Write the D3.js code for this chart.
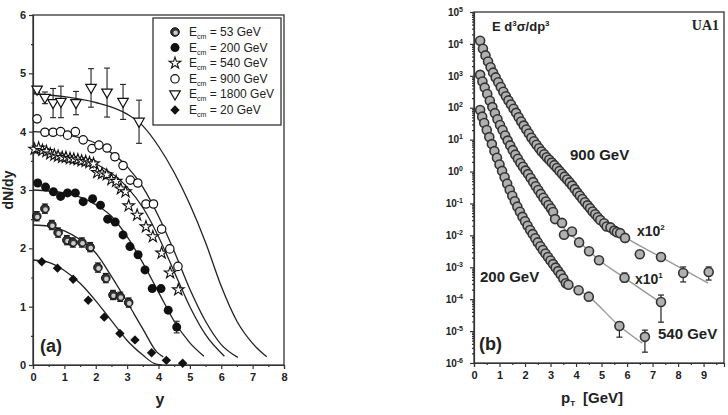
<!doctype html>
<html>
<head>
<meta charset="utf-8">
<script src="https://cdn.jsdelivr.net/npm/d3@7"></script>
<style>
html,body{margin:0;background:#fff;overflow:hidden;}
text{font-family:Arial,"Liberation Sans",sans-serif;font-weight:bold;fill:#222;}
.leg text{font-weight:normal;}
.axis path,.axis line{stroke:#333;stroke-width:1.2;}
</style>
</head>
<body>
<script>
// ---------- panel (a) : dN/dy vs y ----------
// points: [y, dN/dy, error]
var e53 = [[0.12,2.55,0.08],[0.38,2.68,0.08],[0.6,2.4,0.08],[0.8,2.27,0.08],[1.08,2.14,0.08],[1.27,2.1,0.08],
  [1.56,2.1,0.08],[1.82,2.02,0.08],[2.07,1.67,0.08],[2.32,1.49,0.08],[2.55,1.2,0.08],[2.78,1.17,0.08],[3.05,1.07,0.08]];
var e200 = [[0.15,3.12,0],[0.4,3.05,0],[0.65,2.97,0],[0.88,2.89,0],[1.1,2.95,0],[1.35,2.95,0],[1.6,2.8,0],
  [1.9,2.85,0],[2.15,2.74,0],[2.38,2.5,0],[2.62,2.45,0],[2.87,2.23,0],[3.09,2.03,0],[3.35,1.89,0],
  [3.57,1.63,0],[3.8,1.31,0],[4.08,1.31,0],[4.31,0.94,0],[4.58,0.65,0.1]];
var e540 = [[0.05,3.7,0],[0.18,3.72,0],[0.3,3.68,0],[0.43,3.66,0],[0.55,3.62,0],[0.68,3.6,0],[0.8,3.58,0],
  [0.93,3.56,0],[1.05,3.56,0],[1.18,3.54,0],[1.3,3.53,0],[1.43,3.52,0],[1.55,3.5,0],[1.68,3.49,0],
  [1.8,3.47,0],[1.93,3.45,0],[2.05,3.3,0],[2.2,3.28,0],[2.35,3.26,0],[2.5,3.18,0],[2.65,3.15,0],
  [2.8,3.02,0],[2.95,2.97,0],[3.05,2.73,0],[3.32,2.57,0],[3.6,2.37,0],[3.82,2.2,0],[4.1,1.92,0],
  [4.37,1.58,0],[4.63,1.29,0]];
var e900 = [[0.13,4.22,0],[0.38,3.99,0],[0.64,3.99,0],[0.88,4.0,0],[1.1,3.94,0],[1.35,4.0,0],[1.6,3.86,0],
  [1.88,3.71,0],[2.1,3.77,0],[2.36,3.72,0],[2.61,3.57,0],[2.87,3.42,0],[3.1,3.17,0],[3.34,3.12,0],
  [3.6,2.76,0],[3.84,2.76,0],[4.1,2.33,0],[4.36,1.99,0],[4.62,1.69,0]];
var e1800 = [[0.13,4.72,0.05],[0.38,4.58,0.1],[0.64,4.49,0.25],[0.89,4.51,0.27],[1.37,4.49,0.2],
  [1.85,4.75,0.33],[2.36,4.67,0.42],[2.87,4.51,0.3],[3.38,4.17,0.37]];
var e20 = [[0.28,1.77,0],[0.78,1.66,0],[1.28,1.47,0],[1.76,1.11,0],[2.27,0.82,0],[2.77,0.54,0],
  [3.25,0.43,0],[3.78,0.21,0],[4.25,0.08,0],[4.77,0.03,0]];

// fit curves: [y, dN/dy]
var fit20 = [[0,1.8],[0.5,1.76],[1,1.62],[1.5,1.4],[2,1.1],[2.5,0.76],[3,0.42],[3.5,0.17],[3.85,0.03],[4.1,0.0]];
var fit53 = [[0,2.4],[0.5,2.38],[1,2.3],[1.5,2.15],[2,1.92],[2.5,1.52],[3,1.08],[3.5,0.62],[3.95,0.22],[4.15,0.14]];
var fit200 = [[0,3.0],[1,2.95],[2,2.75],[2.5,2.55],[3,2.2],[3.5,1.75],[4,1.25],[4.5,0.75],[5,0.38],[5.45,0.15]];
var fit540 = [[0,3.65],[1,3.6],[2,3.45],[3,3.05],[3.5,2.7],[4,2.2],[4.5,1.6],[5,1.0],[5.5,0.52],[6.1,0.15]];
var fit900 = [[0,4.0],[1,3.95],[2,3.8],[3,3.4],[3.5,3.05],[4,2.55],[4.5,1.95],[5,1.3],[5.5,0.75],[6,0.35],[6.53,0.13]];
var fit1800 = [[0,4.65],[1,4.6],[2,4.5],[3,4.3],[3.5,4.1],[4,3.75],[4.5,3.3],[5,2.75],[5.5,2.1],[6,1.35],[6.5,0.75],[7,0.37],[7.45,0.14]];

var legendLabels = ["= 53 GeV","= 200 GeV","= 540 GeV","= 900 GeV","= 1800 GeV","= 20 GeV"];

// ---------- panel (b) : E d3sigma/dp3 vs pT, values as log10 ----------
var top900 = [[0.24,4.1],[0.35,3.85],[0.45,3.64],[0.55,3.45],[0.65,3.27],[0.75,3.1],[0.85,2.95],[0.95,2.8],
  [1.05,2.65],[1.15,2.5],[1.25,2.36],[1.35,2.23],[1.45,2.1],[1.55,1.97],[1.65,1.84],[1.75,1.7],[1.85,1.57],
  [1.95,1.44],[2.05,1.32],[2.15,1.19],[2.25,1.06],[2.35,0.95],[2.45,0.84],[2.55,0.73],[2.65,0.63],[2.75,0.54],
  [2.85,0.45],[2.95,0.37],[3.05,0.28],[3.15,0.2],[3.25,0.11],[3.35,0.02],[3.45,-0.07],[3.55,-0.16],[3.65,-0.25],
  [3.75,-0.34],[3.85,-0.44],[3.95,-0.55],[4.05,-0.66],[4.15,-0.76],[4.25,-0.86],[4.35,-0.96],[4.45,-1.06],
  [4.55,-1.15],[4.65,-1.25],[4.75,-1.34],[4.85,-1.43],[4.95,-1.52],[5.1,-1.62],[5.2,-1.72],[5.35,-1.75],
  [5.5,-1.85],[5.6,-1.9],[5.73,-1.93],[5.92,-2.08],[6.5,-2.59],[7.33,-2.68],[8.2,-3.18],[9.2,-3.15]];
var mid540 = [[0.24,3.03],[0.33,2.82],[0.42,2.63],[0.52,2.43],[0.62,2.22],[0.72,2.02],[0.82,1.83],[0.92,1.64],
  [1.02,1.46],[1.12,1.3],[1.22,1.13],[1.32,0.97],[1.42,0.82],[1.52,0.67],[1.62,0.53],[1.72,0.4],[1.82,0.27],
  [1.92,0.15],[2.02,0.03],[2.12,-0.08],[2.22,-0.2],[2.32,-0.33],[2.42,-0.46],[2.52,-0.58],[2.62,-0.7],
  [2.72,-0.82],[2.82,-0.94],[2.92,-1.05],[3.02,-1.16],[3.1,-1.27],[3.18,-1.49],[3.45,-1.61],[3.53,-1.98],
  [3.84,-1.88],[4.12,-2.22],[4.51,-2.5],[4.9,-2.78],[5.9,-3.33],[7.33,-4.09]];
var low200 = [[0.24,1.93],[0.32,1.72],[0.4,1.52],[0.5,1.3],[0.6,1.08],[0.7,0.86],[0.8,0.64],[0.9,0.43],
  [1.0,0.22],[1.1,0.02],[1.2,-0.18],[1.3,-0.38],[1.4,-0.57],[1.5,-0.76],[1.6,-0.93],[1.7,-1.1],[1.8,-1.26],
  [1.9,-1.42],[2.0,-1.56],[2.1,-1.7],[2.2,-1.83],[2.3,-1.96],[2.4,-2.09],[2.5,-2.22],[2.6,-2.34],[2.7,-2.46],
  [2.8,-2.57],[2.9,-2.68],[3.0,-2.79],[3.1,-2.9],[3.2,-3.01],[3.3,-3.12],[3.4,-3.23],[3.5,-3.35],[3.6,-3.5],
  [3.7,-3.55],[4.1,-3.72],[4.5,-3.92],[5.7,-4.84],[6.7,-5.18]];
// error bars [pT, log low, log high]
var errTop = [[8.2,-3.46,-2.99],[9.2,-3.4,-2.99]];
var errMid = [[5.9,-3.46,-3.18],[7.33,-4.72,-3.87]];
var errLow = [[5.7,-5.19,-4.72],[6.7,-5.66,-4.97]];
// fit lines [pT, log10]
var fitTop = [[3.6,-0.2],[4.5,-1.1],[5.3,-1.72],[5.9,-2.05],[7.33,-2.68],[9.18,-3.5]];
var fitMid = [[3.0,-1.15],[3.5,-1.75],[4.12,-2.2],[4.9,-2.77],[5.9,-3.33],[7.3,-4.1]];
var fitLow = [[3.2,-3.0],[3.6,-3.45],[4.1,-3.7],[4.5,-3.92],[5.7,-4.84],[6.6,-5.38]];

var logTicks = [-6,-5,-4,-3,-2,-1,0,1,2,3,4,5];

var W = 728, H = 415;
var svg = d3.select("body").append("svg").attr("width", W).attr("height", H);

// ======== panel (a) ========
var xa = d3.scaleLinear().domain([0, 8]).range([33, 284]);
var ya = d3.scaleLinear().domain([0, 6]).range([365, 15]);
var ga = svg.append("g");

ga.append("rect").attr("x", 33).attr("y", 15).attr("width", 251).attr("height", 350)
  .attr("fill", "none").attr("stroke", "#333").attr("stroke-width", 1.3);

ga.append("g").attr("class", "axis").attr("transform", "translate(0,365)")
  .call(d3.axisBottom(xa).tickValues(d3.range(0.5, 8, 1)).tickSize(2).tickFormat(""))
  .call(function(g){ g.select(".domain").remove(); });
ga.append("g").attr("class", "axis").attr("transform", "translate(0,365)")
  .call(d3.axisBottom(xa).ticks(8).tickSize(4).tickPadding(4))
  .call(function(g){ g.selectAll("text").attr("font-size", 11).attr("fill", "#222").attr("font-family", null); });
ga.append("g").attr("class", "axis").attr("transform", "translate(33,0)")
  .call(d3.axisLeft(ya).tickValues(d3.range(0.5, 6, 1)).tickSize(2).tickFormat(""))
  .call(function(g){ g.select(".domain").remove(); });
ga.append("g").attr("class", "axis").attr("transform", "translate(33,0)")
  .call(d3.axisLeft(ya).ticks(6).tickSize(4).tickPadding(3))
  .call(function(g){ g.selectAll("text").attr("font-size", 11).attr("fill", "#222").attr("font-family", null); });

var lineA = d3.line().x(function(d){ return xa(d[0]); }).y(function(d){ return ya(d[1]); })
  .curve(d3.curveMonotoneX);
[fit20, fit53, fit200, fit540, fit900, fit1800].forEach(function(f){
  ga.append("path").datum(f).attr("d", lineA).attr("fill", "none")
    .attr("stroke", "#222").attr("stroke-width", 1.3);
});

var sets = [
  {data: e53, kind: "half"}, {data: e200, kind: "dot"}, {data: e540, kind: "star"},
  {data: e900, kind: "ring"}, {data: e1800, kind: "tri"}, {data: e20, kind: "diamond"}
];

function drawMarker(g, kind, x, y) {
  if (kind == "half") {
    g.append("circle").attr("cx", x).attr("cy", y).attr("r", 4.3).attr("fill", "#333").attr("stroke", "#111");
    g.append("circle").attr("cx", x + 0.6).attr("cy", y + 0.8).attr("r", 2.3).attr("fill", "#ccc");
  } else if (kind == "dot") {
    g.append("circle").attr("cx", x).attr("cy", y).attr("r", 4.5).attr("fill", "#111");
  } else if (kind == "ring") {
    g.append("circle").attr("cx", x).attr("cy", y).attr("r", 4.2).attr("fill", "#fff")
      .attr("stroke", "#111").attr("stroke-width", 1.2);
  } else if (kind == "star") {
    g.append("path").attr("d", d3.symbol(d3.symbolStar, 42)()).attr("transform", "translate(" + x + "," + y + ")")
      .attr("fill", "#fff").attr("stroke", "#111").attr("stroke-width", 1.1);
  } else if (kind == "tri") {
    g.append("path").attr("d", d3.symbol(d3.symbolTriangle, 48)())
      .attr("transform", "translate(" + x + "," + (y - 0.5) + ") rotate(180)")
      .attr("fill", "#fff").attr("stroke", "#111").attr("stroke-width", 1.2);
  } else if (kind == "diamond") {
    g.append("path").attr("d", d3.symbol(d3.symbolSquare, 44)())
      .attr("transform", "translate(" + x + "," + y + ") rotate(45)").attr("fill", "#111");
  }
}

sets.forEach(function(s){
  var g = ga.append("g");
  s.data.forEach(function(d){
    if (d[2] > 0) {
      var x = xa(d[0]);
      g.append("line").attr("x1", x).attr("x2", x).attr("y1", ya(d[1] - d[2])).attr("y2", ya(d[1] + d[2]))
        .attr("stroke", "#222").attr("stroke-width", 1.1);
      [d[1] - d[2], d[1] + d[2]].forEach(function(v){
        g.append("line").attr("x1", x - 3).attr("x2", x + 3).attr("y1", ya(v)).attr("y2", ya(v))
          .attr("stroke", "#222").attr("stroke-width", 1.1);
      });
    }
    drawMarker(g, s.kind, xa(d[0]), ya(d[1]));
  });
});

// legend
var leg = ga.append("g").attr("class", "leg");
leg.append("rect").attr("x", 153).attr("y", 18).attr("width", 128).attr("height", 107)
  .attr("fill", "#fff").attr("stroke", "#333").attr("stroke-width", 1.3);
legendLabels.forEach(function(lab, i){
  var ly = 32 + i * 15.6;
  drawMarker(leg, sets[i].kind, 175, ly);
  var t = leg.append("text").attr("x", 189).attr("y", ly + 4).attr("font-size", 12);
  t.append("tspan").text("E");
  t.append("tspan").attr("font-size", 7).attr("dy", 3).text("cm");
  t.append("tspan").attr("dy", -3).text(" " + lab);
});

ga.append("text").attr("x", 40).attr("y", 352).attr("font-size", 18).text("(a)");
ga.append("text").attr("x", 160).attr("y", 405).attr("text-anchor", "middle").attr("font-size", 16).text("y");
ga.append("text").attr("transform", "translate(13,190) rotate(-90)").attr("text-anchor", "middle")
  .attr("font-size", 14).text("dN/dy");

// ======== panel (b) ========
var xb = d3.scaleLinear().domain([0, 9.8]).range([474, 724]);
var yb = d3.scaleLog().domain([1e-6, 1e5]).range([363, 12]);
var gb = svg.append("g");
function p10(v){ return Math.pow(10, v); }

gb.append("rect").attr("x", 474).attr("y", 12).attr("width", 250).attr("height", 351)
  .attr("fill", "none").attr("stroke", "#333").attr("stroke-width", 1.3);

gb.append("g").attr("class", "axis").attr("transform", "translate(0,363)")
  .call(d3.axisBottom(xb).tickValues(d3.range(0.5, 9.8, 1)).tickSize(2).tickFormat(""))
  .call(function(g){ g.select(".domain").remove(); });
gb.append("g").attr("class", "axis").attr("transform", "translate(0,363)")
  .call(d3.axisBottom(xb).tickValues(d3.range(0, 10, 1)).tickSize(4).tickPadding(4))
  .call(function(g){ g.selectAll("text").attr("font-size", 11).attr("fill", "#222").attr("font-family", null); });

var minorLog = [];
logTicks.slice(0, -1).forEach(function(k){
  for (var m = 2; m < 10; m++) minorLog.push(m * p10(k));
});
gb.append("g").attr("class", "axis").attr("transform", "translate(474,0)")
  .call(d3.axisLeft(yb).tickValues(minorLog).tickSize(2).tickFormat(""))
  .call(function(g){ g.select(".domain").remove(); });
gb.append("g").attr("class", "axis").attr("transform", "translate(474,0)")
  .call(d3.axisLeft(yb).tickValues(logTicks.map(p10)).tickSize(4).tickPadding(7).tickFormat(""))
  .call(function(g){
    g.selectAll(".tick text").each(function(d){
      var t = d3.select(this).attr("font-size", 10).attr("fill", "#222").attr("font-family", null);
      var k = Math.round(Math.log10(d));
      t.append("tspan").text("10");
      t.append("tspan").attr("font-size", 7).attr("dy", -4).text(k);
    });
  });

var lineB = d3.line().x(function(d){ return xb(d[0]); }).y(function(d){ return yb(p10(d[1])); })
  .curve(d3.curveMonotoneX);
[fitTop, fitMid, fitLow].forEach(function(f){
  gb.append("path").datum(f).attr("d", lineB).attr("fill", "none")
    .attr("stroke", "#999").attr("stroke-width", 1.4);
});

[[top900, errTop], [mid540, errMid], [low200, errLow]].forEach(function(s){
  var g = gb.append("g");
  s[1].forEach(function(e){
    var x = xb(e[0]);
    g.append("line").attr("x1", x).attr("x2", x).attr("y1", yb(p10(e[1]))).attr("y2", yb(p10(e[2])))
      .attr("stroke", "#222").attr("stroke-width", 1.2);
    [e[1], e[2]].forEach(function(v){
      g.append("line").attr("x1", x - 3).attr("x2", x + 3).attr("y1", yb(p10(v))).attr("y2", yb(p10(v)))
        .attr("stroke", "#222").attr("stroke-width", 1.2);
    });
  });
  g.selectAll("circle").data(s[0]).enter().append("circle")
    .attr("cx", function(d){ return xb(d[0]); }).attr("cy", function(d){ return yb(p10(d[1])); })
    .attr("r", 4.5).attr("fill", "#b0b0b0").attr("stroke", "#333").attr("stroke-width", 1.6);
});

var tl = gb.append("text").attr("x", 492).attr("y", 31).attr("font-size", 13);
tl.append("tspan").text("E d");
tl.append("tspan").attr("font-size", 8).attr("dy", -5).text("3");
tl.append("tspan").attr("dy", 5).text("\u03c3/dp");
tl.append("tspan").attr("font-size", 8).attr("dy", -5).text("3");
gb.append("text").attr("x", 719).attr("y", 30).attr("text-anchor", "end").attr("font-size", 14)
  .style("font-family", "'Liberation Serif','Times New Roman',serif").style("font-weight", "900").text("UA1");
gb.append("text").attr("x", 570).attr("y", 160).attr("font-size", 15).text("900 GeV");
gb.append("text").attr("x", 480).attr("y", 282).attr("font-size", 15).text("200 GeV");
gb.append("text").attr("x", 658).attr("y", 339).attr("font-size", 15).text("540 GeV");
var x2 = gb.append("text").attr("x", 637).attr("y", 236).attr("font-size", 14);
x2.append("tspan").text("x10");
x2.append("tspan").attr("font-size", 8).attr("dy", -6).text("2");
var x1 = gb.append("text").attr("x", 635).attr("y", 284).attr("font-size", 14);
x1.append("tspan").text("x10");
x1.append("tspan").attr("font-size", 8).attr("dy", -6).text("1");
gb.append("text").attr("x", 479).attr("y", 350).attr("font-size", 18).text("(b)");
var xl = gb.append("text").attr("x", 561).attr("y", 403).attr("font-size", 15);
xl.append("tspan").text("p");
xl.append("tspan").attr("font-size", 8).attr("dy", 3).text("T");
xl.append("tspan").attr("dy", -3).attr("dx", 8).text("[GeV]");
</script>
</body>
</html>
